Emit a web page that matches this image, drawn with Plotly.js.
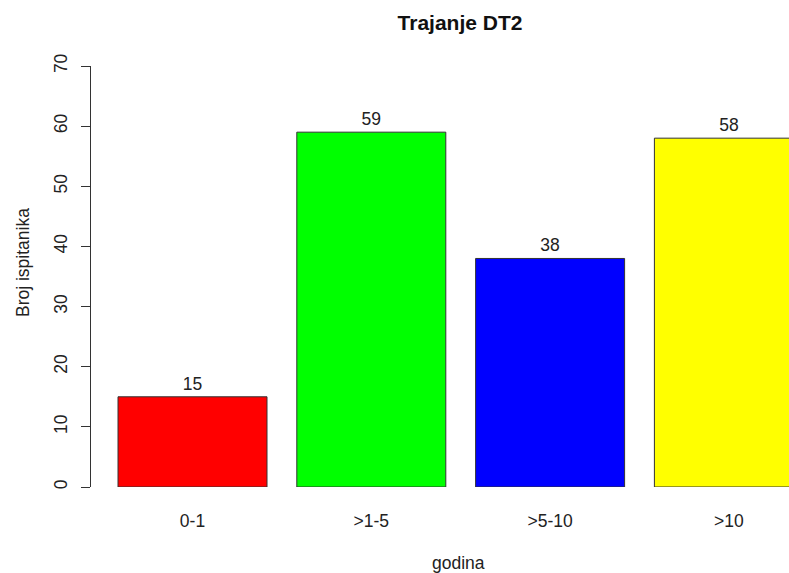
<!DOCTYPE html>
<html>
<head>
<meta charset="utf-8">
<script src="https://cdn.plot.ly/plotly-3.0.1.min.js"></script>
<style>html,body{margin:0;padding:0;background:#fff;}#chart{width:789px;height:573px;}</style>
</head>
<body>
<div id="chart"></div>
<script>
const categories = ["0-1", ">1-5", ">5-10", ">10"];
const counts = [15, 59, 38, 58];
const barColors = ["#ff0000", "#00ff00", "#0000ff", "#ffff00"];
const yTicks = [0, 10, 20, 30, 40, 50, 60, 70];
// R barplot positions (width 1, space 0.2)
const positions = categories.map((c, i) => 0.7 + 1.2 * i);

const FONT = "Liberation Sans, Arial, sans-serif";

const trace = {
  type: "bar",
  x: positions,
  y: counts,
  width: 1,
  marker: {color: barColors, line: {color: "#333333", width: 1}},
  text: counts.map(String),
  textposition: "outside",
  textfont: {family: FONT, size: 17.5, color: "#222222"},
  constraintext: "none",
  cliponaxis: false,
  hoverinfo: "skip"
};

const layout = {
  width: 789, height: 573,
  margin: {l: 91, r: 0, t: 66, b: 86, pad: 0},
  paper_bgcolor: "#ffffff", plot_bgcolor: "#ffffff",
  showlegend: false,
  font: {family: FONT, size: 17.5, color: "#222222"},
  title: {text: "<b>Trajanje DT2</b>", font: {family: FONT, size: 21, color: "#111111"},
          xref: "container", x: 460/789, xanchor: "center", yref: "container", y: 1 - 23/573, yanchor: "middle"},
  xaxis: {
    range: [0.2 - 27/149, 0.2 + 671/149],
    tickmode: "array", tickvals: positions, ticktext: categories,
    ticks: "outside", ticklen: 18, tickcolor: "rgba(0,0,0,0)",
    showline: false, showgrid: false, zeroline: false,
    tickfont: {family: FONT, size: 17.5, color: "#222222"}
  },
  yaxis: {
    range: [0, 70],
    tickmode: "array", tickvals: yTicks, ticktext: yTicks.map(String),
    tickangle: -90,
    ticks: "outside", ticklen: 9, tickwidth: 1, tickcolor: "#333333",
    ticklabelstandoff: 7,
    showline: true, linecolor: "#333333", linewidth: 1,
    showgrid: false, zeroline: false,
    tickfont: {family: FONT, size: 17.5, color: "#222222"}
  },
  annotations: [
    {text: "godina", xref: "paper", yref: "paper", x: (459 - 91) / 698, y: (487 - 563) / 421,
     xanchor: "center", yanchor: "middle", showarrow: false, font: {family: FONT, size: 17.5, color: "#222222"}},
    {text: "Broj ispitanika", xref: "paper", yref: "paper", x: (23 - 91) / 698, y: (487 - 263) / 421,
     xanchor: "center", yanchor: "middle", textangle: -90, showarrow: false, font: {family: FONT, size: 17.5, color: "#222222"}}
  ]
};

Plotly.newPlot("chart", [trace], layout, {staticPlot: true, displayModeBar: false});
</script>
</body>
</html>
